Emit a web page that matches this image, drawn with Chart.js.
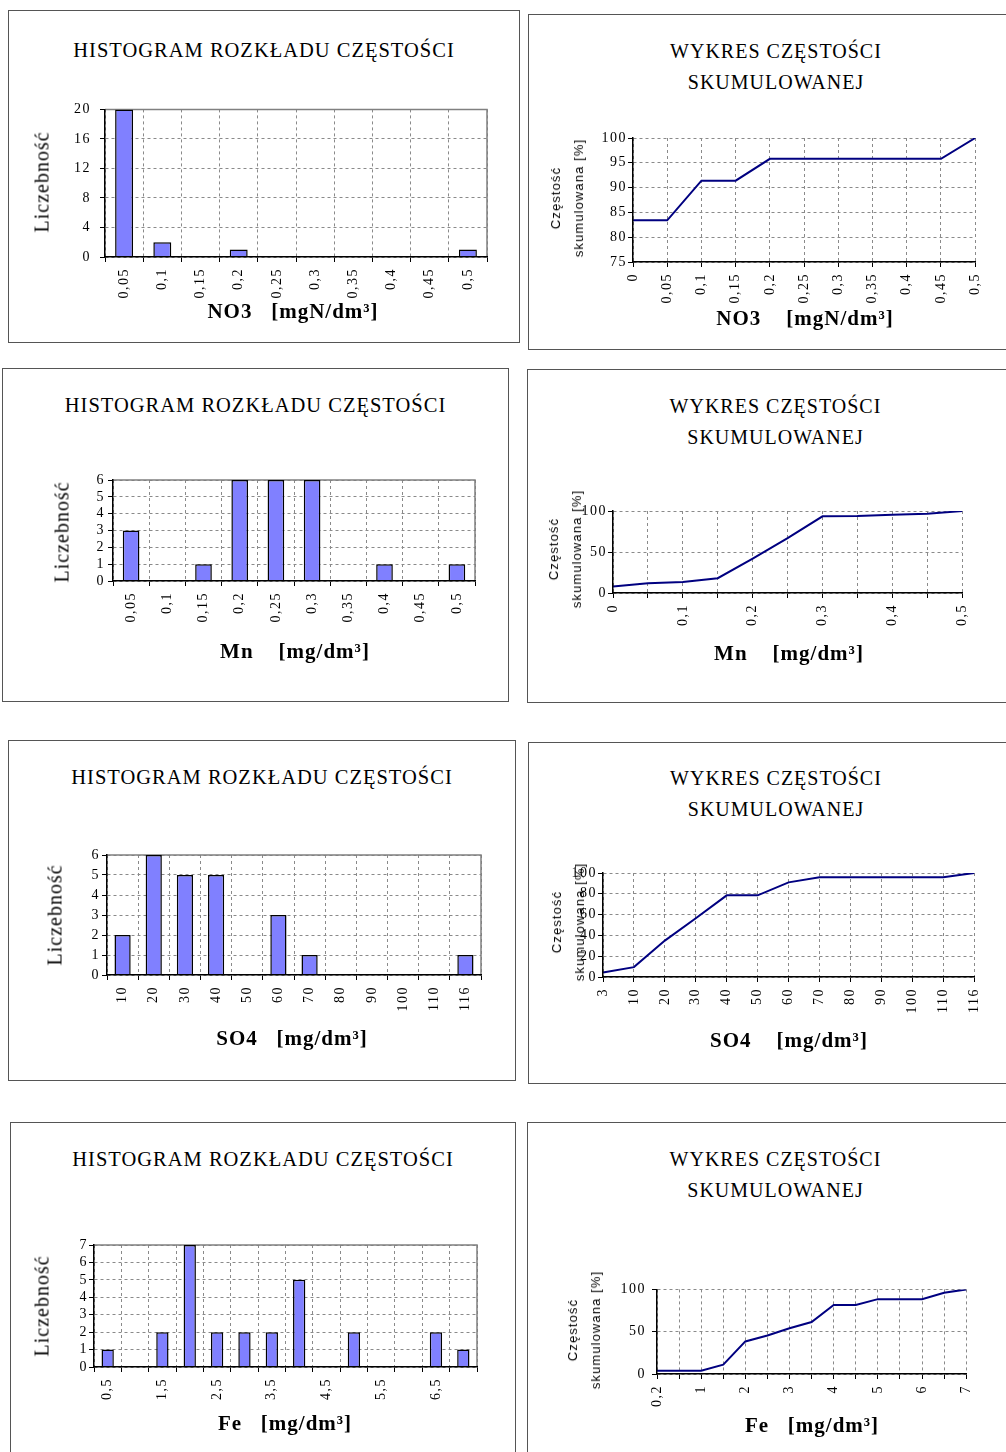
<!DOCTYPE html>
<html lang="pl">
<head>
<meta charset="utf-8">
<title>Histogramy i wykresy częstości skumulowanej</title>
<script src="https://cdn.jsdelivr.net/npm/chart.js@4"></script>
<style>
  html, body { margin: 0; padding: 0; background: #fff; }
  body { width: 1006px; height: 1452px; position: relative; overflow: hidden; font-family: "Liberation Serif", serif; color: #000; }
  .panel { position: absolute; border: 1px solid #555; box-sizing: border-box; }
  .title { position: absolute; text-align: center; font-size: 20px; line-height: 31px; letter-spacing: 1px; white-space: pre; }
  .title.h { font-size: 20.5px; }
  .xt { position: absolute; transform: translate(-50%, -50%); font-weight: bold; font-size: 21px; letter-spacing: 1px; white-space: pre; }
  .yt { position: absolute; transform: translate(-50%, -50%) rotate(-90deg); font-size: 20px; letter-spacing: 1px; white-space: pre; }
  .yt2 { position: absolute; transform: translate(-50%, -50%) rotate(-90deg); font-family: "Liberation Sans", sans-serif; font-size: 13px; line-height: 23px; letter-spacing: 1.1px; text-align: center; white-space: pre; }
  canvas { position: absolute; }
</style>
</head>
<body>
<script>
// Data
const no3Bins   = ['0,05', '0,1', '0,15', '0,2', '0,25', '0,3', '0,35', '0,4', '0,45', '0,5'];
const no3Counts = [20, 2, 0, 1, 0, 0, 0, 0, 0, 1];
const no3CumX   = ['0', '0,05', '0,1', '0,15', '0,2', '0,25', '0,3', '0,35', '0,4', '0,45', '0,5'];
const no3Cum    = [83.4, 83.4, 91.4, 91.4, 95.8, 95.8, 95.8, 95.8, 95.8, 95.8, 100];

const mnBins    = ['0,05', '0,1', '0,15', '0,2', '0,25', '0,3', '0,35', '0,4', '0,45', '0,5'];
const mnCounts  = [3, 0, 1, 6, 6, 6, 0, 1, 0, 1];
const mnCumX    = ['0', '0,05', '0,1', '0,15', '0,2', '0,25', '0,3', '0,35', '0,4', '0,45', '0,5'];
const mnCum     = [8, 12, 13.5, 18, 42, 67, 93.5, 94, 95.5, 96.5, 100];

const so4Bins   = ['10', '20', '30', '40', '50', '60', '70', '80', '90', '100', '110', '116'];
const so4Counts = [2, 6, 5, 5, 0, 3, 1, 0, 0, 0, 0, 1];
const so4CumX   = ['3', '10', '20', '30', '40', '50', '60', '70', '80', '90', '100', '110', '116'];
const so4Cum    = [4.3, 9.5, 35, 56.5, 78.5, 78.5, 91, 96, 96, 96, 96, 96, 100];

const feBins    = ['0,5', '1', '1,5', '2', '2,5', '3', '3,5', '4', '4,5', '5', '5,5', '6', '6,5', '7'];
const feCounts  = [1, 0, 2, 7, 2, 2, 2, 5, 0, 2, 0, 0, 2, 1];
const feCumX    = ['0,2', '0,5', '1', '1,5', '2', '2,5', '3', '3,5', '4', '4,5', '5', '5,5', '6', '6,5', '7'];
const feCum     = [3.8, 3.8, 3.8, 11, 38.5, 45.5, 54, 61.5, 81.5, 81.5, 88.5, 88.5, 88.5, 96, 100];

const HIST_TITLE = 'HISTOGRAM ROZKŁADU CZĘSTOŚCI';
const CUM_TITLE = 'WYKRES CZĘSTOŚCI\nSKUMULOWANEJ';
const CUM_YTITLE = 'Częstość\nskumulowana [%]';

// Layout: box = [left, top, width, height], plot = [left, top, right, bottom]
const charts = [
  { kind: 'hist', box: [8, 10, 512, 333], titleTop: 35, labels: no3Bins, values: no3Counts, yMax: 20, yStep: 4,
    plot: [105, 104, 487, 257], barPct: 0.47, yPad: 9, every: 1,
    xTitle: 'NO3   [mgN/dm³]', xPos: [293, 311], yPos: [42, 182] },
  { kind: 'cum', box: [528, 14, 496, 336], titleTop: 36, labels: no3CumX, values: no3Cum, yMin: 75, yMax: 100, yStep: 5,
    plot: [633, 138, 978, 262], yPad: 1, every: 1,
    xTitle: 'NO3    [mgN/dm³]', xPos: [805, 318], yPos: [567, 198] },
  { kind: 'hist', box: [2, 368, 507, 334], titleTop: 390, labels: mnBins, values: mnCounts, yMax: 6, yStep: 1,
    plot: [113, 480, 475, 581], barPct: 0.46, yPad: 3, every: 1,
    xTitle: 'Mn    [mg/dm³]', xPos: [295, 651], yPos: [62, 532] },
  { kind: 'cum', box: [527, 369, 497, 334], titleTop: 391, labels: mnCumX, values: mnCum, yMin: 0, yMax: 100, yStep: 50,
    plot: [613, 511, 965, 593], yPad: 1, every: 2,
    xTitle: 'Mn    [mg/dm³]', xPos: [789, 653], yPos: [565, 549] },
  { kind: 'hist', box: [8, 740, 508, 341], titleTop: 762, labels: so4Bins, values: so4Counts, yMax: 6, yStep: 1,
    plot: [107, 855, 481, 975], barPct: 0.52, yPad: 2, every: 1,
    xTitle: 'SO4   [mg/dm³]', xPos: [292, 1038], yPos: [55, 915] },
  { kind: 'cum', box: [528, 742, 496, 342], titleTop: 763, labels: so4CumX, values: so4Cum, yMin: 0, yMax: 100, yStep: 20,
    plot: [603, 873, 977, 977], yPad: 1, every: 1,
    xTitle: 'SO4    [mg/dm³]', xPos: [789, 1040], yPos: [568, 922] },
  { kind: 'hist', box: [10, 1122, 506, 360], titleTop: 1144, labels: feBins, values: feCounts, yMax: 7, yStep: 1,
    plot: [94, 1245, 477, 1367], barPct: 0.45, yPad: 1, every: 2,
    xTitle: 'Fe   [mg/dm³]', xPos: [285, 1423], yPos: [42, 1306] },
  { kind: 'cum', box: [527, 1122, 497, 360], titleTop: 1144, labels: feCumX, values: feCum, yMin: 0, yMax: 100, yStep: 50,
    plot: [657, 1287, 969, 1374], yPad: 6, every: 2,
    xTitle: 'Fe   [mg/dm³]', xPos: [812, 1425], yPos: [584, 1330] }
];

Chart.defaults.font.family = '"Liberation Serif", serif';
Chart.defaults.color = '#000';

const Y_W = 70, X_H = 60, PAD_T = 12, PAD_R = 20;
const GRID = '#8a8a8a';

// solid grey frame on top/right of histogram plot areas
const framePlugin = {
  id: 'frame',
  beforeDatasetsDraw(chart) {
    const { ctx, chartArea: a } = chart;
    ctx.save();
    ctx.strokeStyle = '#808080';
    ctx.lineWidth = 1.5;
    ctx.beginPath();
    ctx.moveTo(a.left, a.top);
    ctx.lineTo(a.right, a.top);
    ctx.lineTo(a.right, a.bottom);
    ctx.stroke();
    ctx.restore();
  }
};

// slightly spaced tick labels like the original
const spacingPlugin = {
  id: 'spacing',
  beforeUpdate(chart) { chart.ctx.letterSpacing = '1.5px'; },
  beforeDraw(chart) { chart.ctx.letterSpacing = '1.5px'; }
};

function addDiv(cls, text, x, y) {
  const d = document.createElement('div');
  d.className = cls;
  d.textContent = text;
  d.style.left = x + 'px';
  d.style.top = y + 'px';
  document.body.appendChild(d);
  return d;
}

function build(c) {
  const [L, T, R, B] = c.plot;

  const panel = document.createElement('div');
  panel.className = 'panel';
  panel.style.left = c.box[0] + 'px';
  panel.style.top = c.box[1] + 'px';
  panel.style.width = c.box[2] + 'px';
  panel.style.height = c.box[3] + 'px';
  document.body.appendChild(panel);

  const canvas = document.createElement('canvas');
  canvas.width = (R - L) + Y_W + PAD_R;
  canvas.height = (B - T) + PAD_T + X_H;
  canvas.style.left = (L - Y_W) + 'px';
  canvas.style.top = (T - PAD_T) + 'px';
  document.body.appendChild(canvas);

  const isHist = c.kind === 'hist';
  const tickFont = { size: 14 };

  const dataset = isHist
    ? { data: c.values, backgroundColor: '#8080ff', borderColor: '#000', borderWidth: 1.5,
        barPercentage: c.barPct, categoryPercentage: 1 }
    : { data: c.values, borderColor: '#000080', borderWidth: 2, pointRadius: 0, fill: false, tension: 0 };

  new Chart(canvas, {
    type: isHist ? 'bar' : 'line',
    data: { labels: c.labels, datasets: [dataset] },
    options: {
      responsive: false,
      animation: false,
      layout: { padding: { left: 0, top: PAD_T, right: PAD_R, bottom: 0 } },
      plugins: { legend: { display: false }, tooltip: { enabled: false } },
      scales: {
        x: {
          offset: isHist,
          grid: { offset: isHist, color: GRID, lineWidth: 1, tickLength: 5, tickColor: '#000', tickWidth: 1 },
          border: { color: '#000', width: 1.5, dash: [3, 3], z: 1 },
          ticks: {
            minRotation: 90, maxRotation: 90, autoSkip: false, padding: 6, font: tickFont,
            callback: function (v, i) { return i % c.every === 0 ? this.getLabelForValue(v) : ''; }
          },
          afterFit: s => { s.height = X_H; }
        },
        y: {
          min: isHist ? 0 : c.yMin,
          max: c.yMax,
          grid: { color: GRID, lineWidth: 1, tickLength: 5, tickColor: '#000', tickWidth: 1 },
          border: { color: '#000', width: 1.5, dash: [3, 3], z: 1 },
          ticks: { stepSize: c.yStep, padding: c.yPad, font: tickFont, autoSkip: false },
          afterFit: s => { s.width = Y_W; }
        }
      }
    },
    plugins: isHist ? [spacingPlugin, framePlugin] : [spacingPlugin]
  });

  const t = addDiv(isHist ? 'title h' : 'title', isHist ? HIST_TITLE : CUM_TITLE, c.box[0], c.titleTop);
  t.style.width = c.box[2] + 'px';
  addDiv('xt', c.xTitle, c.xPos[0], c.xPos[1]);
  addDiv(isHist ? 'yt' : 'yt2', isHist ? 'Liczebność' : CUM_YTITLE, c.yPos[0], c.yPos[1]);
}

charts.forEach(build);
</script>
</body>
</html>
